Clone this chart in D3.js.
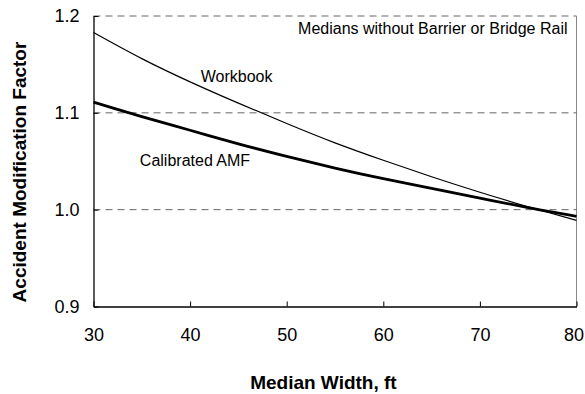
<!DOCTYPE html>
<html>
<head>
<meta charset="utf-8">
<script src="https://cdn.jsdelivr.net/npm/d3@7"></script>
<style>
  body { margin: 0; background: #fff; }
  svg { font-family: "Liberation Sans", Arial, sans-serif; }
</style>
</head>
<body>
<div id="chart"></div>
<script>
// Median width (ft)
const widths = [30, 35, 40, 45, 50, 55, 60, 65, 70, 75, 80];
// AMF
const workbook = [1.183, 1.156, 1.132, 1.110, 1.089, 1.069, 1.051, 1.034, 1.018, 1.003, 0.989];
const calibrated = [1.111, 1.096, 1.082, 1.068, 1.055, 1.043, 1.032, 1.022, 1.012, 1.002, 0.993];
const xTicks = [30, 40, 50, 60, 70, 80];
const yTicks = [0.9, 1.0, 1.1, 1.2];
const gridValues = [1.0, 1.1, 1.2];

const W = 585, H = 394;
const margin = { top: 16, right: 8.5, bottom: 87.5, left: 93.5 };
const width = W - margin.left - margin.right;
const height = H - margin.top - margin.bottom;

const svg = d3.select("#chart")
    .append("svg")
    .attr("width", W)
    .attr("height", H)
    .append("g")
    .attr("transform", `translate(${margin.left},${margin.top})`);

const x = d3.scaleLinear().domain([30, 80]).range([0, width]);
const y = d3.scaleLinear().domain([0.9, 1.2]).range([height, 0]);

// plot border (right side)
svg.append("line")
    .attr("x1", width).attr("x2", width)
    .attr("y1", 0).attr("y2", height)
    .attr("stroke", "#888").attr("stroke-width", 1);

// dashed gridlines
svg.selectAll(".grid")
    .data(gridValues)
    .join("line")
    .attr("class", "grid")
    .attr("x1", 0).attr("x2", width)
    .attr("y1", d => y(d)).attr("y2", d => y(d))
    .attr("stroke", "#666")
    .attr("stroke-width", 1)
    .attr("stroke-dasharray", "7,5");

// axes
const xAxis = svg.append("g")
    .attr("transform", `translate(0,${height})`)
    .call(d3.axisBottom(x).tickValues(xTicks).tickSizeInner(-5).tickSizeOuter(0).tickPadding(22));

const yAxis = svg.append("g")
    .call(d3.axisLeft(y).tickValues(yTicks).tickFormat(d3.format(".1f")).tickSizeInner(-5).tickSizeOuter(0).tickPadding(14));

[xAxis, yAxis].forEach(g => {
    g.select(".domain").attr("stroke", "#000").attr("stroke-width", 1.3);
    g.selectAll(".tick line").attr("stroke", "#000");
    g.selectAll("text")
        .attr("fill", "#000")
        .attr("font-size", "18px")
        .attr("font-family", "Liberation Sans, Arial, sans-serif");
});

// last x label sits at the window edge; nudge it in so it is not cut
xAxis.selectAll(".tick text")
    .filter(d => d === 80)
    .attr("dx", -3);

// curves
const line = d3.line()
    .x((d, i) => x(widths[i]))
    .y(d => y(d))
    .curve(d3.curveNatural);

svg.append("path")
    .datum(workbook)
    .attr("fill", "none")
    .attr("stroke", "#000")
    .attr("stroke-width", 1.2)
    .attr("d", line);

svg.append("path")
    .datum(calibrated)
    .attr("fill", "none")
    .attr("stroke", "#000")
    .attr("stroke-width", 2.8)
    .attr("d", line);

// annotations
svg.append("text")
    .attr("x", width - 9).attr("y", 18)
    .attr("text-anchor", "end")
    .attr("font-size", "16px")
    .text("Medians without Barrier or Bridge Rail");

svg.append("text")
    .attr("x", x(41.1)).attr("y", 66)
    .attr("font-size", "16px")
    .text("Workbook");

svg.append("text")
    .attr("x", x(34.8)).attr("y", 150)
    .attr("font-size", "16px")
    .text("Calibrated AMF");

// axis titles
svg.append("text")
    .attr("x", x(53.8)).attr("y", height + 82)
    .attr("text-anchor", "middle")
    .attr("font-size", "19px")
    .attr("font-weight", "bold")
    .text("Median Width, ft");

svg.append("text")
    .attr("transform", `translate(${-margin.left + 26},${156}) rotate(-90)`)
    .attr("text-anchor", "middle")
    .attr("font-size", "19px")
    .attr("font-weight", "bold")
    .text("Accident Modification Factor");
</script>
</body>
</html>
